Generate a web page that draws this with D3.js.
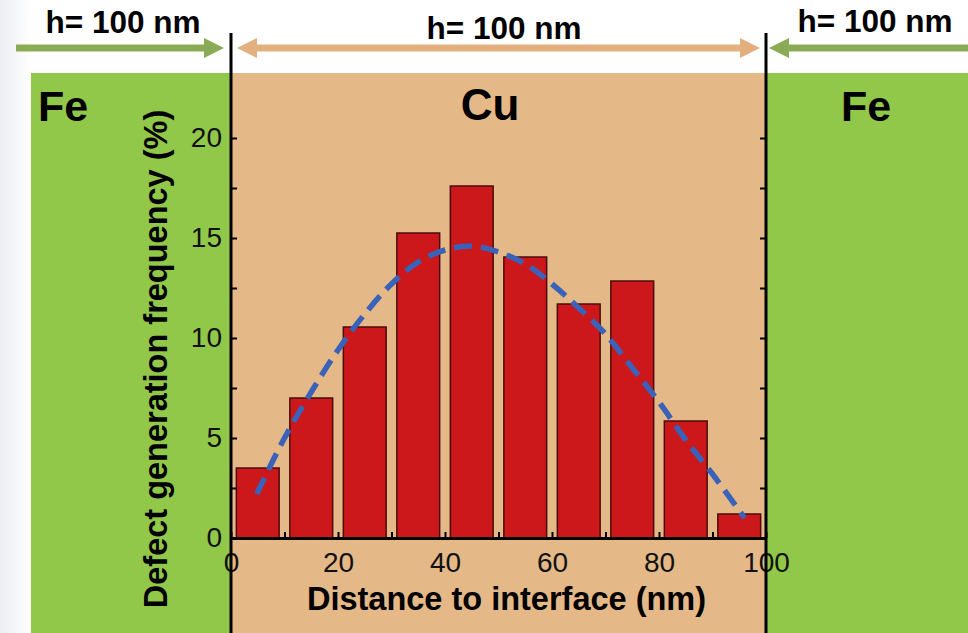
<!DOCTYPE html>
<html>
<head>
<meta charset="utf-8">
<script src="https://cdn.jsdelivr.net/npm/d3@7"></script>
<style>
  body { margin: 0; background: #fff; }
  svg { display: block; font-family: "Liberation Sans", Arial, sans-serif; }
</style>
</head>
<body>
<div class="container"></div>
<script>
// chart data
const binStarts = [0, 10, 20, 30, 40, 50, 60, 70, 80, 90];
const frequency = [3.5, 7.0, 10.55, 15.25, 17.6, 14.05, 11.7, 12.85, 5.85, 1.2];

// dashed fit curve
const fitX = [4.8, 10, 15, 20, 25, 30, 35, 40, 45, 50, 55, 60, 65, 70, 75, 80, 85, 90, 96];
const fitY = [2.2, 5.0, 7.3, 9.4, 11.2, 12.7, 13.8, 14.4, 14.6, 14.3, 13.7, 12.7, 11.5, 10.2, 8.5, 6.8, 4.9, 3.2, 1.0];

const yTickLabels = [0, 5, 10, 15, 20];
const xTickLabels = [0, 20, 40, 60, 80, 100];
const layerName = "Cu";
const sideName = "Fe";
const thicknessLabel = "h= 100 nm";

// sizes
const width = 968;
const height = 633;
const margin = { top: 138, bottom: 95, left: 231, right: 202 };
const bandTop = 73;

const svg = d3.select(".container")
  .append("svg")
  .attr("width", width)
  .attr("height", height);

const xScale = d3.scaleLinear()
  .domain([0, 100])
  .range([margin.left, width - margin.right]);

const yScale = d3.scaleLinear()
  .domain([0, 20])
  .range([height - margin.bottom, margin.top]);

const x0 = xScale(0), x1 = xScale(100);

// faint grey strip on the far left
const grad = svg.append("defs").append("linearGradient").attr("id", "leftFade");
grad.append("stop").attr("offset", "0%").attr("stop-color", "#eceef3");
grad.append("stop").attr("offset", "100%").attr("stop-color", "#ffffff");
svg.append("rect").attr("x", 0).attr("y", 0).attr("width", 31).attr("height", height)
  .attr("fill", "url(#leftFade)");

// material layers
svg.append("rect").attr("x", 31).attr("y", bandTop).attr("width", x0 - 31).attr("height", height - bandTop)
  .attr("fill", "#92c84a");
svg.append("rect").attr("x", x0).attr("y", bandTop).attr("width", x1 - x0).attr("height", height - bandTop)
  .attr("fill", "#e4b887");
svg.append("rect").attr("x", x1).attr("y", bandTop).attr("width", width - x1).attr("height", height - bandTop)
  .attr("fill", "#92c84a");

// arrows at the top
function arrow(xa, xb, y, color, heads) {
  const g = svg.append("g").attr("fill", color);
  const hl = 20, hw = 10, sw = 3.5;
  const left = heads.includes("left") ? xa + hl : xa;
  const right = heads.includes("right") ? xb - hl : xb;
  g.append("rect").attr("x", left).attr("y", y - sw).attr("width", right - left).attr("height", sw * 2);
  if (heads.includes("right")) {
    g.append("path").attr("d", `M${xb},${y} L${xb - hl},${y - hw} L${xb - hl},${y + hw} Z`);
  }
  if (heads.includes("left")) {
    g.append("path").attr("d", `M${xa},${y} L${xa + hl},${y - hw} L${xa + hl},${y + hw} Z`);
  }
}
arrow(16, x0 - 7, 48, "#8aab55", ["right"]);
arrow(x0 + 6, x1 - 6, 48, "#e2b07e", ["left", "right"]);
arrow(x1 + 3, width + 30, 48, "#8aab55", ["left"]);

svg.selectAll(".hlabel")
  .data([{ x: 123, y: 33 }, { x: 504, y: 39 }, { x: 875, y: 32 }])
  .join("text")
  .attr("class", "hlabel")
  .attr("x", d => d.x)
  .attr("y", d => d.y)
  .attr("text-anchor", "middle")
  .attr("font-size", 31.5)
  .attr("font-weight", "bold")
  .text(thicknessLabel);

// layer names
svg.append("text").attr("x", 490).attr("y", 120).attr("text-anchor", "middle")
  .attr("font-size", 44).attr("font-weight", "bold").text(layerName);
svg.append("text").attr("x", 63).attr("y", 121).attr("text-anchor", "middle")
  .attr("font-size", 43).attr("font-weight", "bold").text(sideName);
svg.append("text").attr("x", 866).attr("y", 121).attr("text-anchor", "middle")
  .attr("font-size", 43).attr("font-weight", "bold").text(sideName);

// bars
svg.append("g")
  .selectAll("rect")
  .data(frequency)
  .join("rect")
  .attr("x", (d, i) => xScale(binStarts[i] + 1))
  .attr("y", d => yScale(d))
  .attr("width", (d, i) => xScale(binStarts[i] + 9) - xScale(binStarts[i] + 1))
  .attr("height", d => yScale(0) - yScale(d))
  .attr("fill", "#cc171b")
  .attr("stroke", "#4a0c0c")
  .attr("stroke-width", 1.5);

// dashed fit
const line = d3.line()
  .x((d, i) => xScale(fitX[i]))
  .y(d => yScale(d))
  .curve(d3.curveCatmullRom);
svg.append("path")
  .datum(fitY)
  .attr("d", line)
  .attr("fill", "none")
  .attr("stroke", "#3a62b8")
  .attr("stroke-width", 5.5)
  .attr("stroke-dasharray", "18,9");

// x axis
svg.append("g")
  .attr("transform", `translate(0,${yScale(0)})`)
  .call(d3.axisBottom(xScale)
    .tickValues(d3.range(0, 101, 10))
    .tickSizeInner(-6)
    .tickSizeOuter(0)
    .tickPadding(14)
    .tickFormat(d => xTickLabels.includes(d) ? d : ""))
  .call(g => g.select(".domain").attr("stroke-width", 3))
  .call(g => g.selectAll(".tick line").attr("stroke-width", 2))
  .call(g => g.selectAll("text").attr("font-size", 28).attr("font-family", "Liberation Sans, Arial").attr("fill", "#111"));

// y axis left
svg.append("g")
  .attr("transform", `translate(${x0},0)`)
  .call(d3.axisLeft(yScale)
    .tickValues(d3.range(0, 20.1, 2.5))
    .tickSizeInner(-6)
    .tickSizeOuter(0)
    .tickPadding(9)
    .tickFormat(d => yTickLabels.includes(d) ? d : ""))
  .call(g => g.select(".domain").remove())
  .call(g => g.selectAll(".tick line").attr("stroke-width", 2))
  .call(g => g.selectAll("text").attr("font-size", 28).attr("font-family", "Liberation Sans, Arial").attr("fill", "#111"));

// y axis right, ticks only
svg.append("g")
  .attr("transform", `translate(${x1},0)`)
  .call(d3.axisRight(yScale)
    .tickValues(d3.range(0, 20.1, 2.5))
    .tickSizeInner(-6)
    .tickSizeOuter(0)
    .tickFormat(""))
  .call(g => g.select(".domain").remove())
  .call(g => g.selectAll(".tick line").attr("stroke-width", 2));

// interface lines
svg.selectAll(".iface")
  .data([0, 100])
  .join("line")
  .attr("class", "iface")
  .attr("x1", d => xScale(d))
  .attr("x2", d => xScale(d))
  .attr("y1", 33)
  .attr("y2", height)
  .attr("stroke", "#000")
  .attr("stroke-width", 3);

// axis titles
svg.append("text")
  .attr("x", (x0 + x1) / 2 + 8)
  .attr("y", 610)
  .attr("text-anchor", "middle")
  .attr("font-size", 32.5)
  .attr("font-weight", "bold")
  .text("Distance to interface (nm)");

svg.append("text")
  .attr("transform", `translate(167,359) rotate(-90)`)
  .attr("text-anchor", "middle")
  .attr("font-size", 32.5)
  .attr("font-weight", "bold")
  .text("Defect generation frequency (%)");
</script>
</body>
</html>
